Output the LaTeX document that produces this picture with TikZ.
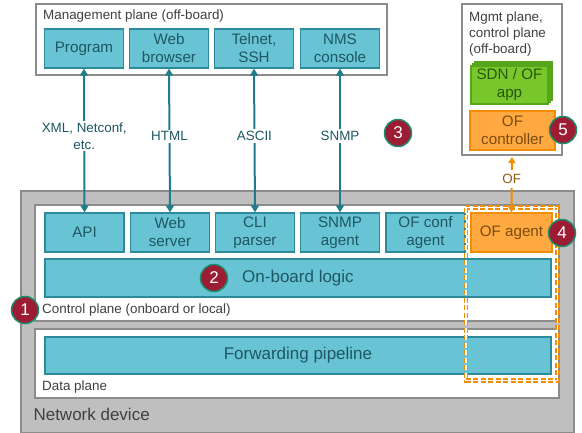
\documentclass[tikz,border=0pt]{standalone}
\usepackage{fontspec}
\setmainfont{Liberation Sans}
\usetikzlibrary{arrows.meta}
\definecolor{boxfill}{HTML}{68C4D5}
\definecolor{boxline}{HTML}{2C8A9A}
\definecolor{boxtext}{HTML}{1E5763}
\definecolor{conncol}{HTML}{1F7D8A}
\definecolor{offill}{HTML}{FFA940}
\definecolor{ofline}{HTML}{F28C00}
\definecolor{oftext}{HTML}{7A4C12}
\definecolor{appfill}{HTML}{78C82C}
\definecolor{appline}{HTML}{55A61B}
\definecolor{apptext}{HTML}{2A560E}
\definecolor{badgefill}{HTML}{9B1C33}
\definecolor{badgeline}{HTML}{1B8C6C}
\definecolor{devfill}{HTML}{BFBFBF}
\definecolor{devline}{HTML}{8C8C8C}
\definecolor{labtext}{HTML}{404040}

\begin{document}
\begin{tikzpicture}[x=1pt,y=-1pt,
  fbox/.style={draw=boxline,fill=boxfill,line width=1.3pt,text=boxtext,align=center,inner sep=0pt,
    minimum width=79pt,minimum height=39pt,font=\fontsize{15.2}{18}\selectfont},
  widebox/.style={fbox,minimum width=506pt,minimum height=38pt,font=\fontsize{17}{20}\selectfont},
  ofbox/.style={fbox,draw=ofline,fill=offill,text=oftext},
  appbox/.style={fbox,draw=appline,fill=appfill,text=apptext,minimum width=77pt,minimum height=38pt},
  frame/.style={draw=devline,fill=white,line width=1.3pt},
  badge/.style={circle,draw=badgeline,fill=badgefill,line width=1.5pt,text=white,minimum size=27pt,
    inner sep=0pt,font=\fontsize{17}{18}\selectfont},
  conn/.style={draw=conncol,line width=2pt,{Triangle[width=8pt,length=7pt]}-{Triangle[width=8pt,length=7pt]}},
  clab/.style={fill=white,text=boxtext,align=center,inner sep=2pt,font=\fontsize{13.4}{16.5}\selectfont},
  plab/.style={anchor=west,text=labtext,inner sep=0pt,font=\fontsize{13.4}{16}\selectfont}]
\useasboundingbox (0,0) rectangle (582,432);

% network device
\draw[draw=devline,fill=devfill,line width=1.3pt] (21,191) rectangle (574,433);
\node[anchor=west,text=labtext,font=\fontsize{17}{20}\selectfont] (dev) at (30,414) {Network device};
\draw[frame] (35,205) rectangle (559,321);
\draw[frame] (35,329) rectangle (559,398);
\node[plab] (cpl) at (42,310) {Control plane (onboard or local)};
\node[plab] (dpl) at (42,387) {Data plane};

% management planes
\draw[frame] (36,4) rectangle (387,75);
\node[plab] (mpl) at (43,16.5) {Management plane (off-board)};
\draw[frame] (462,4) rectangle (562,155);
\coordinate (ofm) at (512,155);
\node[plab,align=left] (rpl) at (469,34) {Mgmt plane,\\control plane\\(off-board)};

\node[fbox] (prog) at (84,48.5) {Program};
\node[fbox] (brow) at (169,48.5) {Web\\browser};
\node[fbox] (tel) at (254,48.5) {Telnet,\\SSH};
\node[fbox] (nms) at (340,48.5) {NMS\\console};

\node[appbox] at (513.5,81) {};
\node[appbox] at (511.5,83) {};
\node[appbox] (app) at (509.5,85) {SDN / OF\\app};
\node[ofbox,minimum width=85pt] (ofc) at (512.5,130.5) {OF\\controller};

% control plane
\node[fbox] (api) at (84.5,232.5) {API};
\node[fbox] (wsrv) at (170,232.5) {Web\\server};
\node[fbox] (cli) at (255,232.5) {CLI\\parser};
\node[fbox] (snmp) at (340,232.5) {SNMP\\agent};
\node[fbox] (ofconf) at (425.5,232.5) {OF conf\\agent};
\node[ofbox,minimum width=81pt] (ofa) at (511.5,232.5) {OF agent};
\node[widebox] (logic) at (298,278) {On-board logic};
\node[widebox,minimum height=37pt] (fwd) at (298,355.5) {Forwarding pipeline};

\draw[ofline,dashed,line width=1.3pt,double=white,double distance=1.8pt,dash pattern=on 5pt off 2.5pt]
  (466,207.5) rectangle (557.5,380.5);

% connectors
\draw[conn] (prog.south) -- node[clab,pos=0.47] {XML, Netconf,\\etc.} (api.north);
\draw[conn] (brow.south) -- node[clab,pos=0.47] {HTML} (wsrv.north);
\draw[conn] (tel.south) -- node[clab,pos=0.47] {ASCII} (cli.north);
\draw[conn] (nms.south) -- node[clab,pos=0.47] {SNMP} (snmp.north);
\draw[draw=ofline,line width=2pt,{Triangle[width=7pt,length=6pt]}-{Triangle[width=7pt,length=6pt]},shorten <=2pt]
  (ofm) -- node[clab,text=oftext!80!ofline,pos=0.42,inner sep=4pt] {OF} (ofa.north);

% badges
\node[badge] (b1) at (25,310) {1};
\node[badge] (b2) at (214,278) {2};
\node[badge] (b3) at (398,133) {3};
\node[badge] (b4) at (562,233) {4};
\node[badge] (b5) at (563,130) {5};
\end{tikzpicture}
\end{document}
